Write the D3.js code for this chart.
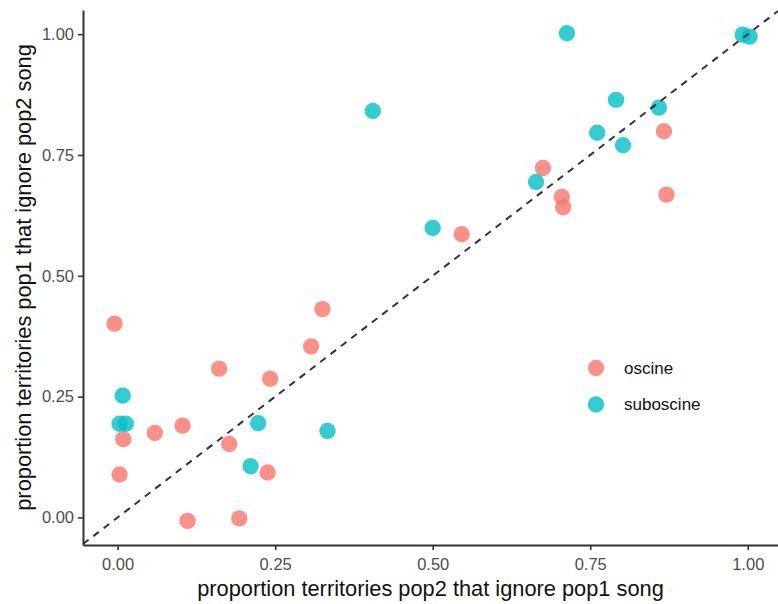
<!DOCTYPE html>
<html>
<head>
<meta charset="utf-8">
<script src="https://cdn.jsdelivr.net/npm/d3@7"></script>
<style>
  body { margin: 0; background: #fff; }
  svg { display: block; font-family: "Liberation Sans", Arial, Helvetica, sans-serif; }
</style>
</head>
<body>
<div id="chart"></div>
<script>
// proportion of pop2 territories ignoring pop1 song (x) vs pop1 ignoring pop2 song (y)
const oscineX = [-0.005, 0.161, 0.009, 0.059, 0.103, 0.177, 0.003, 0.111, 0.193, 0.325,
                 0.307, 0.242, 0.238, 0.546, 0.867, 0.675, 0.705, 0.707, 0.871];
const oscineY = [0.401, 0.308, 0.162, 0.175, 0.190, 0.152, 0.089, -0.007, -0.002, 0.431,
                 0.354, 0.287, 0.093, 0.586, 0.799, 0.723, 0.663, 0.642, 0.668];
const suboscineX = [0.008, 0.003, 0.013, 0.211, 0.223, 0.333, 0.405, 0.500, 0.713, 0.992,
                    1.003, 0.791, 0.859, 0.761, 0.802, 0.664];
const suboscineY = [0.252, 0.194, 0.194, 0.106, 0.195, 0.179, 0.841, 0.599, 1.002, 0.999,
                    0.995, 0.864, 0.848, 0.796, 0.770, 0.694];
const groups = ["oscine", "suboscine"];
const ticks = [0, 0.25, 0.5, 0.75, 1];
const xLim = [-0.055, 1.048];
const yLim = [-0.057, 1.050];

const W = 778, H = 604;
const margin = { left: 83, right: 0, top: 10, bottom: 59 };
const innerW = W - margin.left - margin.right;
const innerH = H - margin.top - margin.bottom;

const color = d3.scaleOrdinal().domain(groups).range(["#F8766D", "#00BFC4"]);

const svg = d3.select("#chart").append("svg")
    .attr("width", W).attr("height", H);

const g = svg.append("g")
    .attr("transform", `translate(${margin.left},${margin.top})`);

const x = d3.scaleLinear().domain(xLim).range([0, innerW]);
const y = d3.scaleLinear().domain(yLim).range([innerH, 0]);

// points
const points = [];
oscineX.forEach((v, i) => points.push({ x: v, y: oscineY[i], grp: "oscine" }));
suboscineX.forEach((v, i) => points.push({ x: v, y: suboscineY[i], grp: "suboscine" }));

g.append("g").selectAll("circle")
    .data(points)
    .join("circle")
    .attr("cx", d => x(d.x))
    .attr("cy", d => y(d.y))
    .attr("r", 8.2)
    .attr("fill", d => color(d.grp))
    .attr("fill-opacity", 0.8);

// 1:1 reference line
g.append("line")
    .attr("x1", x(xLim[0])).attr("y1", y(xLim[0]))
    .attr("x2", x(xLim[1])).attr("y2", y(xLim[1]))
    .attr("stroke", "#333")
    .attr("stroke-width", 2)
    .attr("stroke-dasharray", "7,6");

// axes
const fmt = d3.format(".2f");
const axX = g.append("g")
    .attr("transform", `translate(0,${innerH})`)
    .call(d3.axisBottom(x).tickValues(ticks).tickFormat(fmt).tickSize(5).tickSizeOuter(0).tickPadding(4));
const axY = g.append("g")
    .call(d3.axisLeft(y).tickValues(ticks).tickFormat(fmt).tickSize(5).tickSizeOuter(0).tickPadding(4));

[axX, axY].forEach(ax => {
    ax.select(".domain").attr("stroke", "#333").attr("stroke-width", 2);
    ax.selectAll(".tick line").attr("stroke", "#333").attr("stroke-width", 1.6);
    ax.selectAll(".tick text")
        .attr("fill", "#4d4d4d")
        .style("font-size", "16.5px")
        .style("font-family", "'Liberation Sans', Arial, sans-serif");
});
axX.selectAll(".tick text").attr("dy", "0.95em");

// axis titles
svg.append("text")
    .attr("x", margin.left + innerW / 2)
    .attr("y", 596)
    .attr("text-anchor", "middle")
    .style("font-size", "21.8px")
    .attr("fill", "#111")
    .text("proportion territories pop2 that ignore pop1 song");

svg.append("text")
    .attr("transform", `translate(31,${margin.top + innerH / 2}) rotate(-90)`)
    .attr("text-anchor", "middle")
    .style("font-size", "21.8px")
    .attr("fill", "#111")
    .text("proportion territories pop1 that ignore pop2 song");

// legend
const legend = svg.append("g").attr("transform", "translate(596,368)");
groups.forEach((k, i) => {
    const row = legend.append("g").attr("transform", `translate(0,${i * 36.5})`);
    row.append("circle")
        .attr("r", 8.2)
        .attr("fill", color(k))
        .attr("fill-opacity", 0.8);
    row.append("text")
        .attr("x", 28)
        .attr("dy", "0.35em")
        .style("font-size", "17px")
        .attr("fill", "#111")
        .text(k);
});
</script>
</body>
</html>
